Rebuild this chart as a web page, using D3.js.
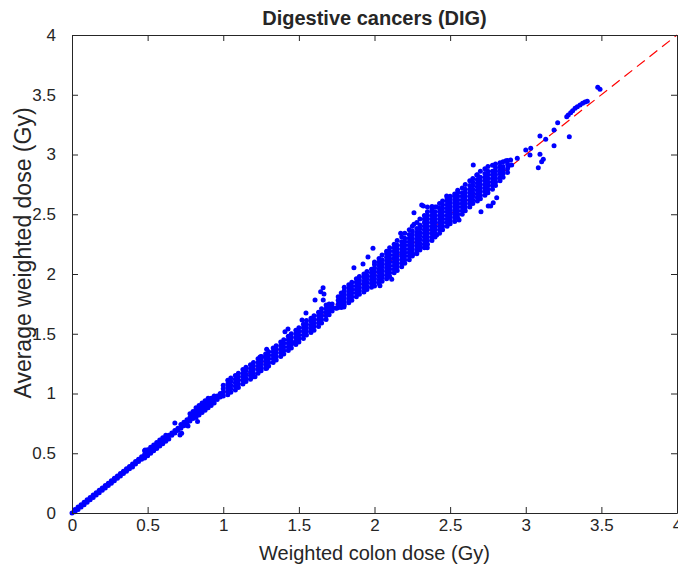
<!DOCTYPE html>
<html>
<head>
<meta charset="utf-8">
<script src="https://cdn.jsdelivr.net/npm/d3@7"></script>
<style>
  body { margin: 0; background: #fff; }
  svg { display: block; }
  text { font-family: "Liberation Sans", Arial, Helvetica, sans-serif; fill: #262626; }
</style>
</head>
<body>
<svg id="chart" width="678" height="574"></svg>
<script>
// tick labels, both axes
const axisTicks = [0, 0.5, 1, 1.5, 2, 2.5, 3, 3.5, 4];

// dense band read column by column: one colon dose, the average doses stacked above it (Gy)
const bandColonDose = [
  0, 0.02, 0.04, 0.06, 0.08, 0.10, 0.12, 0.14, 0.16, 0.18, 0.20, 0.22, 0.24, 0.26, 0.28, 0.30,
  0.32, 0.34, 0.36, 0.38, 0.40, 0.42, 0.44, 0.46, 0.48, 0.50, 0.52, 0.54, 0.56, 0.58, 0.60, 0.62,
  0.64, 0.66, 0.68, 0.70, 0.72, 0.74, 0.76, 0.78, 0.80, 0.82, 0.84, 0.86, 0.88, 0.90, 0.92, 0.94,
  0.96, 0.98,
  1.00, 1.03, 1.05, 1.08, 1.10, 1.13, 1.15, 1.18, 1.20, 1.23, 1.25, 1.28, 1.30, 1.33, 1.35, 1.38,
  1.40, 1.43, 1.45, 1.48, 1.50, 1.53, 1.55, 1.58, 1.60, 1.63, 1.65, 1.68, 1.70, 1.72,
  1.76, 1.78, 1.80, 1.83, 1.85, 1.88, 1.90, 1.93, 1.95, 1.98,
  2.00, 2.03, 2.05, 2.08, 2.10, 2.13, 2.15, 2.18, 2.20, 2.23, 2.25, 2.28, 2.30, 2.33, 2.35, 2.38,
  2.40, 2.43, 2.45, 2.48, 2.50, 2.53, 2.55, 2.58, 2.60, 2.63, 2.65, 2.68, 2.70, 2.73, 2.75, 2.78,
  2.80, 2.83, 2.85, 2.88
];
const bandAvgDose = [
  [0], [0.01, 0.03], [0.03, 0.05], [0.05, 0.07], [0.07, 0.09], [0.09, 0.11], [0.11, 0.13], [0.13, 0.15],
  [0.15, 0.17], [0.17, 0.19], [0.19, 0.21], [0.21, 0.23], [0.23, 0.25], [0.25, 0.27], [0.27, 0.29], [0.29, 0.31],
  [0.31, 0.33], [0.33, 0.35], [0.35, 0.37], [0.37, 0.39], [0.385, 0.41], [0.41, 0.43], [0.43, 0.45], [0.45, 0.47],
  [0.46, 0.49, 0.52], [0.48, 0.50, 0.53], [0.50, 0.53, 0.55], [0.52, 0.55, 0.57], [0.54, 0.57, 0.59],
  [0.56, 0.59, 0.61], [0.58, 0.61, 0.63], [0.60, 0.63, 0.65],
  [0.62, 0.65], [0.65, 0.67], [0.67, 0.69], [0.69, 0.71], [0.71, 0.74], [0.73, 0.76], [0.75, 0.78],
  [0.77, 0.80, 0.83], [0.79, 0.82, 0.85], [0.80, 0.83, 0.86, 0.88], [0.82, 0.85, 0.88, 0.90],
  [0.84, 0.87, 0.90, 0.92], [0.86, 0.89, 0.92, 0.94], [0.88, 0.91, 0.94, 0.96], [0.90, 0.93, 0.96],
  [0.92, 0.95, 0.98], [0.95, 0.98], [0.97, 1.00],
  [0.98, 1.01, 1.04, 1.07], [0.99, 1.02, 1.05, 1.08, 1.11], [1.01, 1.04, 1.07, 1.10, 1.13],
  [1.03, 1.06, 1.09, 1.12, 1.15], [1.05, 1.08, 1.11, 1.14, 1.17], [1.08, 1.11, 1.14, 1.17, 1.20],
  [1.10, 1.13, 1.16, 1.19, 1.22], [1.12, 1.15, 1.18, 1.21, 1.24], [1.14, 1.17, 1.20, 1.23, 1.26],
  [1.17, 1.20, 1.23, 1.26, 1.29], [1.19, 1.22, 1.25, 1.28, 1.31], [1.21, 1.24, 1.27, 1.30, 1.33],
  [1.23, 1.26, 1.29, 1.32, 1.35], [1.26, 1.29, 1.32, 1.35, 1.38], [1.28, 1.31, 1.34, 1.37, 1.40],
  [1.31, 1.34, 1.37, 1.40, 1.43], [1.33, 1.36, 1.39, 1.42, 1.45], [1.36, 1.39, 1.42, 1.45, 1.48],
  [1.38, 1.41, 1.44, 1.47, 1.50], [1.41, 1.44, 1.47, 1.50, 1.53], [1.43, 1.46, 1.49, 1.52, 1.55],
  [1.46, 1.49, 1.52, 1.55, 1.58], [1.49, 1.52, 1.55, 1.58, 1.61], [1.51, 1.54, 1.57, 1.60, 1.63],
  [1.53, 1.56, 1.59, 1.62, 1.65], [1.56, 1.59, 1.62, 1.65, 1.68], [1.59, 1.62, 1.65, 1.68, 1.71],
  [1.62, 1.65, 1.68, 1.71, 1.74], [1.66, 1.69, 1.72, 1.75], [1.69, 1.72, 1.75],
  [1.72, 1.75, 1.78, 1.81], [1.72, 1.75, 1.78, 1.81, 1.84], [1.74, 1.77, 1.80, 1.83, 1.86, 1.89],
  [1.76, 1.79, 1.82, 1.85, 1.88, 1.91], [1.78, 1.81, 1.84, 1.87, 1.90, 1.93],
  [1.81, 1.84, 1.87, 1.90, 1.93, 1.96], [1.83, 1.86, 1.89, 1.92, 1.95, 1.98],
  [1.85, 1.88, 1.91, 1.94, 1.97, 2.00], [1.87, 1.90, 1.93, 1.96, 1.99, 2.02],
  [1.89, 1.92, 1.95, 1.98, 2.01, 2.04],
  [1.90, 1.93, 1.96, 1.99, 2.02, 2.05, 2.08, 2.10],
  [1.92, 1.95, 1.98, 2.01, 2.04, 2.07, 2.10, 2.13],
  [1.94, 1.97, 2.00, 2.03, 2.06, 2.09, 2.12, 2.16],
  [1.96, 1.99, 2.02, 2.05, 2.08, 2.11, 2.14, 2.17, 2.19],
  [1.98, 2.01, 2.04, 2.07, 2.10, 2.13, 2.16, 2.19, 2.22],
  [2.01, 2.04, 2.07, 2.10, 2.13, 2.16, 2.19, 2.22, 2.25],
  [2.03, 2.06, 2.09, 2.12, 2.15, 2.18, 2.21, 2.24, 2.28],
  [2.06, 2.09, 2.12, 2.15, 2.18, 2.21, 2.24, 2.27, 2.31],
  [2.09, 2.12, 2.15, 2.18, 2.21, 2.24, 2.27, 2.30, 2.34],
  [2.12, 2.15, 2.18, 2.21, 2.24, 2.27, 2.30, 2.33, 2.37],
  [2.15, 2.18, 2.21, 2.24, 2.27, 2.30, 2.33, 2.36, 2.40],
  [2.17, 2.20, 2.23, 2.26, 2.29, 2.32, 2.35, 2.38, 2.43],
  [2.20, 2.23, 2.26, 2.29, 2.32, 2.35, 2.38, 2.41, 2.46],
  [2.22, 2.25, 2.28, 2.31, 2.34, 2.37, 2.40, 2.43, 2.46, 2.49],
  [2.25, 2.28, 2.31, 2.34, 2.37, 2.40, 2.43, 2.46, 2.49, 2.52],
  [2.28, 2.31, 2.34, 2.37, 2.40, 2.43, 2.46, 2.49, 2.52, 2.54],
  [2.31, 2.34, 2.37, 2.40, 2.43, 2.46, 2.49, 2.52, 2.56],
  [2.34, 2.37, 2.40, 2.43, 2.46, 2.49, 2.52, 2.55, 2.59],
  [2.37, 2.40, 2.43, 2.46, 2.49, 2.52, 2.55, 2.58, 2.61],
  [2.40, 2.43, 2.46, 2.49, 2.52, 2.55, 2.58, 2.61, 2.63],
  [2.42, 2.45, 2.48, 2.51, 2.54, 2.57, 2.60, 2.63, 2.65],
  [2.44, 2.47, 2.50, 2.53, 2.56, 2.59, 2.62, 2.65, 2.67],
  [2.47, 2.50, 2.53, 2.56, 2.59, 2.62, 2.65, 2.68, 2.70],
  [2.50, 2.53, 2.56, 2.59, 2.62, 2.65, 2.68, 2.72],
  [2.53, 2.56, 2.59, 2.62, 2.65, 2.68, 2.71, 2.75],
  [2.56, 2.59, 2.62, 2.65, 2.68, 2.71, 2.74, 2.78],
  [2.59, 2.62, 2.65, 2.68, 2.71, 2.74, 2.77, 2.80],
  [2.61, 2.64, 2.67, 2.70, 2.73, 2.76, 2.79, 2.83],
  [2.63, 2.66, 2.69, 2.72, 2.75, 2.78, 2.81, 2.86],
  [2.66, 2.69, 2.72, 2.75, 2.78, 2.81, 2.84, 2.88],
  [2.68, 2.71, 2.74, 2.77, 2.80, 2.83, 2.86, 2.90],
  [2.71, 2.74, 2.77, 2.80, 2.83, 2.86, 2.91],
  [2.74, 2.77, 2.80, 2.83, 2.86, 2.89, 2.92],
  [2.78, 2.81, 2.84, 2.87, 2.90, 2.93],
  [2.81, 2.84, 2.87, 2.90, 2.94],
  [2.85, 2.88, 2.92, 2.95]
];

// single dots away from the band: [weighted colon dose, average weighted dose]
const scattered = [
  [0.483, 0.527], [0.725, 0.667], [0.68, 0.753], [0.714, 0.653], [0.767, 0.728], [0.83, 0.765],
  [1.210, 1.141], [1.287, 1.211], [1.428, 1.540], [1.243, 1.305], [1.474, 1.423], [1.408, 1.517], [1.287, 1.370],
  [1.496, 1.448], [1.254, 1.308], [1.607, 1.782], [1.660, 1.885], [1.666, 1.833], [1.661, 1.782], [1.644, 1.852],
  [1.547, 1.674], [1.521, 1.615], [1.864, 2.053], [1.924, 2.084], [1.798, 1.724], [1.745, 1.715], [1.750, 1.713],
  [2.036, 1.902], [2.114, 1.956], [1.957, 2.142], [2.087, 2.033], [1.990, 2.215], [2.173, 2.341], [2.261, 2.513],
  [2.261, 2.416], [2.349, 2.220], [2.411, 2.326], [2.301, 2.228], [2.253, 2.165], [2.312, 2.577], [2.323, 2.569],
  [2.35, 2.56], [2.38, 2.565], [2.41, 2.56], [2.477, 2.653], [2.559, 2.452], [2.653, 2.912], [2.752, 2.569],
  [2.785, 2.597], [2.808, 2.638], [2.704, 2.521], [2.676, 2.828], [2.768, 2.569]
];

const tailDose = [
  [2.869, 2.948], [2.900, 2.954], [2.885, 2.904], [2.907, 2.912], [2.944, 2.968], [3.000, 3.038], [3.028, 2.996],
  [3.033, 3.052], [3.094, 3.002], [3.105, 2.940], [3.116, 2.960], [3.083, 2.890], [3.094, 3.155], [3.132, 3.127],
  [3.187, 3.205], [3.187, 3.074], [3.211, 3.266], [3.288, 3.149], [3.271, 3.316], [3.281, 3.331], [3.297, 3.350],
  [3.310, 3.367], [3.326, 3.387], [3.341, 3.400], [3.359, 3.414], [3.376, 3.428], [3.392, 3.439], [3.407, 3.445],
  [3.476, 3.562], [3.491, 3.546]
];

const identityLine = [[0, 0], [4, 4]];

const svg = d3.select("#chart");
const x = d3.scaleLinear().domain([0, 4]).range([72, 677]);
const y = d3.scaleLinear().domain([0, 4]).range([513, 35]);
const fmt = d3.format("~g");
const axisColor = "#262626";

// identity line, behind the dots
svg.append("path")
  .datum(identityLine)
  .attr("d", d3.line().x((d) => x(d[0])).y((d) => y(d[1])))
  .attr("fill", "none")
  .attr("stroke", "#ff0000")
  .attr("stroke-width", 1.2)
  .attr("stroke-dasharray", "10,6");

const bandDots = bandColonDose.flatMap((c, i) => bandAvgDose[i].map((a) => [c, a]));
const allDots = bandDots.concat(scattered, tailDose);
svg.append("g")
  .selectAll("circle")
  .data(allDots)
  .join("circle")
  .attr("cx", (d) => x(d[0]))
  .attr("cy", (d) => y(d[1]))
  .attr("r", 2.5)
  .attr("fill", "#0000ff");

// box with inward ticks on all four sides
function styleAxis(g, showLabels) {
  g.attr("font-family", null).attr("font-size", null);
  g.selectAll("path, line").attr("stroke", axisColor);
  g.selectAll("text")
    .attr("fill", axisColor)
    .style("font-size", "17px")
    .style("display", showLabels ? null : "none");
}

svg.append("g")
  .attr("transform", "translate(0,513)")
  .call(d3.axisBottom(x).tickValues(axisTicks).tickFormat(fmt).tickSizeInner(-6).tickSizeOuter(0).tickPadding(6))
  .call((g) => styleAxis(g, true));

svg.append("g")
  .attr("transform", "translate(0,35)")
  .call(d3.axisTop(x).tickValues(axisTicks).tickSizeInner(-6).tickSizeOuter(0))
  .call((g) => styleAxis(g, false));

svg.append("g")
  .attr("transform", "translate(72,0)")
  .call(d3.axisLeft(y).tickValues(axisTicks).tickFormat(fmt).tickSizeInner(-6).tickSizeOuter(0).tickPadding(16))
  .call((g) => styleAxis(g, true));

svg.append("g")
  .attr("transform", "translate(677,0)")
  .call(d3.axisRight(y).tickValues(axisTicks).tickSizeInner(-6).tickSizeOuter(0))
  .call((g) => styleAxis(g, false));

// titles
svg.append("text")
  .attr("x", 374.5)
  .attr("y", 25)
  .attr("text-anchor", "middle")
  .style("font-size", "20px")
  .style("font-weight", "bold")
  .text("Digestive cancers (DIG)");

svg.append("text")
  .attr("x", 374.5)
  .attr("y", 560)
  .attr("text-anchor", "middle")
  .style("font-size", "20px")
  .text("Weighted colon dose (Gy)");

svg.append("text")
  .attr("transform", "translate(31,253) rotate(-90)")
  .attr("text-anchor", "middle")
  .style("font-size", "23px")
  .text("Average weighted dose (Gy)");
</script>
</body>
</html>
